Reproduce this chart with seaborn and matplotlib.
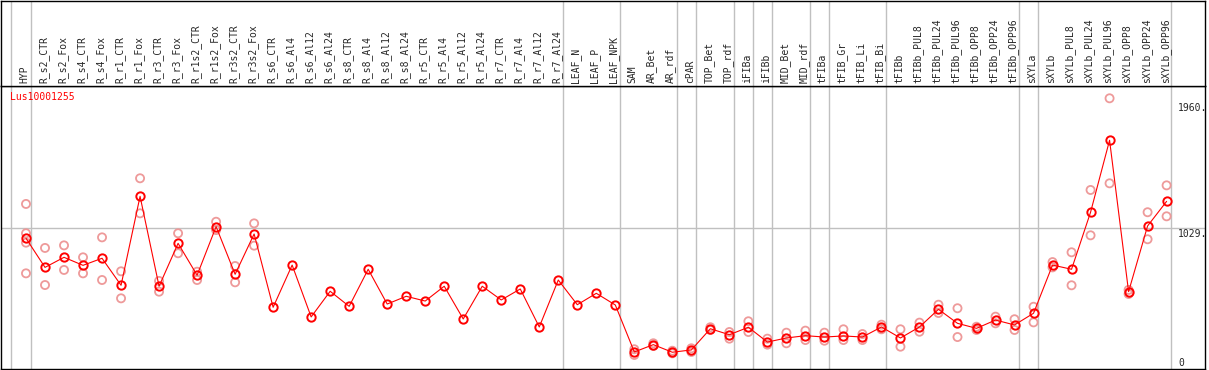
import numpy as np
import pandas as pd
import matplotlib
matplotlib.use('Agg')
import matplotlib.pyplot as plt
import seaborn as sns

# ── DATA ────────────────────────────────────────────────────────────────────
GENE = "Lus10001255"

COLUMNS = [
    "HYP", "R_s2_CTR", "R_s2_Fox", "R_s4_CTR", "R_s4_Fox", "R_r1_CTR", "R_r1_Fox",
    "R_r3_CTR", "R_r3_Fox", "R_r1s2_CTR", "R_r1s2_Fox", "R_r3s2_CTR", "R_r3s2_Fox",
    "R_s6_CTR", "R_s6_Al4", "R_s6_Al12", "R_s6_Al24", "R_s8_CTR", "R_s8_Al4",
    "R_s8_Al12", "R_s8_Al24", "R_r5_CTR", "R_r5_Al4", "R_r5_Al12", "R_r5_Al24",
    "R_r7_CTR", "R_r7_Al4", "R_r7_Al12", "R_r7_Al24", "LEAF_N", "LEAF_P", "LEAF_NPK",
    "SAM", "AR_Bet", "AR_rdf", "cPAR", "TOP_Bet", "TOP_rdf", "iFIBa", "iFIBb",
    "MID_Bet", "MID_rdf", "tFIBa", "tFIB_Gr", "tFIB_Li", "tFIB_Bi", "tFIBb",
    "tFIBb_PUL8", "tFIBb_PUL24", "tFIBb_PUL96", "tFIBb_OPP8", "tFIBb_OPP24",
    "tFIBb_OPP96", "sXYLa", "sXYLb", "sXYLb_PUL8", "sXYLb_PUL24", "sXYLb_PUL96",
    "sXYLb_OPP8", "sXYLb_OPP24", "sXYLb_OPP96",
]

MEAN = [
    955, 741, 815, 756, 808, 609, 1264, 602, 918, 683, 1041, 690, 987,
    447, 758, 376, 565, 454, 727, 471, 528, 493, 602, 361, 602, 501, 582, 302, 648,
    466, 550, 464,
    118, 172, 116, 133, 289, 245, 300, 191, 221, 238, 228, 236, 228, 302,
    221, 302, 432, 329, 292, 353, 317,
    403, 758, 727, 1147, 1677, 562, 1046, 1227,
]

REPLICATES = [
    [1208, 992, 923, 697], [884, 611], [903, 722], [815, 697], [962, 648],
    [712, 513], [1397, 1139], [641, 562], [992, 845], [709, 648], [1077, 1016],
    [751, 631], [1065, 901],
    [], [], [], [], [], [], [], [], [], [], [], [], [], [], [], [], [], [], [],
    [138, 96], [182, 162], [127, 108], [145, 118], [300, 280], [265, 216],
    [344, 265], [216, 172], [260, 182], [275, 206], [260, 201], [285, 206],
    [250, 206], [319, 285], [285, 157], [334, 267], [466, 405], [440, 228],
    [304, 280], [378, 329], [359, 280], [451, 336], [741, 780], [852, 609],
    [1311, 977], [1986, 1360], [545, 575], [1147, 948], [1345, 1117],
]

# last column index of each sample group (separators drawn after these)
GROUP_ENDS = [-1, 0, 28, 31, 34, 35, 37, 38, 39, 41, 42, 45, 52, 53, 60]

Y_TICKS = [1960, 1029]
Y_TICK_LABELS = ["1960.", "1029."]

# ── FRAME ───────────────────────────────────────────────────────────────────
sns.set_theme(style='white')
plt.rcParams['font.family'] = ['DejaVu Sans Mono']

W, H = 1209, 370
fig = plt.figure(figsize=(W / 100, H / 100), dpi=100)

x0, x1 = 1, 1205
ax = fig.add_axes([x0 / W, 1 / H, (x1 - x0) / W, 283 / H])
ax_top = fig.add_axes([x0 / W, 284 / H, (x1 - x0) / W, 85.5 / H], sharex=ax)

STEP = 19.01
xlim = ((x0 - 26) / STEP, (x1 - 26) / STEP)
ax.set_xlim(*xlim)
ax.set_ylim(-7.4, 2076.6)
ax_top.set_ylim(0, 1)

GRAY = '#c0c0c0'
PINK = '#ee9a9a'

for a in (ax, ax_top):
    a.set_xticks([])
    a.set_yticks([])
    a.set_facecolor('white')
    for s in a.spines.values():
        s.set_color('black')
        s.set_linewidth(1.0)
    for g in GROUP_ENDS:
        off = 0.2 if g < 0 else 0.24
        a.axvline(g + off, color=GRAY, lw=1.0, zorder=0)

ax.axhline(1029, color=GRAY, lw=1.0, zorder=0)

# ── POINTS ──────────────────────────────────────────────────────────────────
df_mean = pd.DataFrame({'col': np.arange(len(COLUMNS)), 'value': MEAN})
rep_rows = [(i, v) for i, reps in enumerate(REPLICATES) for v in reps]
df_rep = pd.DataFrame(rep_rows, columns=['col', 'value'])

sns.scatterplot(data=df_rep, x='col', y='value', ax=ax, color=PINK,
                facecolor='none', edgecolor=PINK, linewidth=1.3, s=34,
                zorder=2, legend=False)
sns.lineplot(data=df_mean, x='col', y='value', ax=ax, color='red', lw=0.8,
             marker='o', ms=6, mfc='none', mec='red', mew=1.4, zorder=3,
             legend=False)

ax.set_xlim(*xlim)
ax.set_ylim(-7.4, 2076.6)
ax.set_xlabel('')
ax.set_ylabel('')

# ── TEXT ────────────────────────────────────────────────────────────────────
ax.text((10 - 26) / STEP, 1996, GENE, color='red', fontsize=7, va='center', ha='left')

label_x = (1178 - 26) / STEP
for t, lab in zip(Y_TICKS, Y_TICK_LABELS):
    ax.text(label_x, t - 8, lab, fontsize=7, va='top', ha='left', clip_on=True)
ax.text(label_x, 74, "0", fontsize=7, va='top', ha='left')

for i, name in enumerate(COLUMNS):
    ax_top.text(i - 0.08, 0.035, name, rotation=90, fontsize=7,
                ha='center', va='bottom')

fig.savefig('out.png', dpi=100)
plt.close(fig)
